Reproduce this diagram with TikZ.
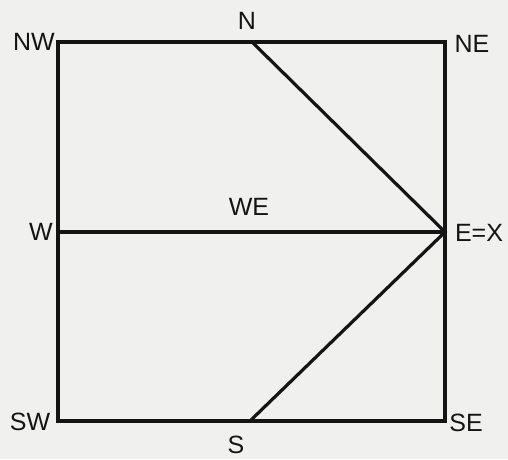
\documentclass[tikz,border=0pt]{standalone}
\usepackage{fontspec}
\setmainfont{Liberation Sans}
\definecolor{bg}{RGB}{240,240,238}
\definecolor{ink}{RGB}{20,20,20}
\tikzset{
  edge/.style={draw=ink, line width=3.2pt, line cap=round, line join=miter},
  lbl/.style={text=ink, font=\fontsize{25}{25}\selectfont, inner sep=0pt}
}
\begin{document}
\begin{tikzpicture}[x=1pt,y=-1pt]
\fill[bg] (0,0) rectangle (508,459);
\useasboundingbox (0,0) rectangle (508,459);
\coordinate (NWc) at (58,42);
\coordinate (NEc) at (445,42);
\coordinate (SWc) at (58,421);
\coordinate (SEc) at (445,421);
\coordinate (Nc) at (252,42);
\coordinate (Sc) at (250,421);
\coordinate (Wc) at (58,232);
\coordinate (Ec) at (445,232);
\draw[edge] (NWc) -- (NEc) -- (SEc) -- (SWc) -- cycle;
\draw[edge] (Wc) -- (Ec);
\draw[edge] (Nc) -- (Ec) -- (Sc);
\node[lbl] (lNW) at (34,42) {NW};
\node[lbl] (lN) at (247,21) {N};
\node[lbl] (lNE) at (472,44) {NE};
\node[lbl] (lW) at (41,232) {W};
\node[lbl] (lWE) at (249,207) {WE};
\node[lbl] (lE) at (479,233) {E=X};
\node[lbl] (lSW) at (30,422) {SW};
\node[lbl] (lSE) at (466,423) {SE};
\node[lbl] (lS) at (236,445) {S};
\end{tikzpicture}
\end{document}
